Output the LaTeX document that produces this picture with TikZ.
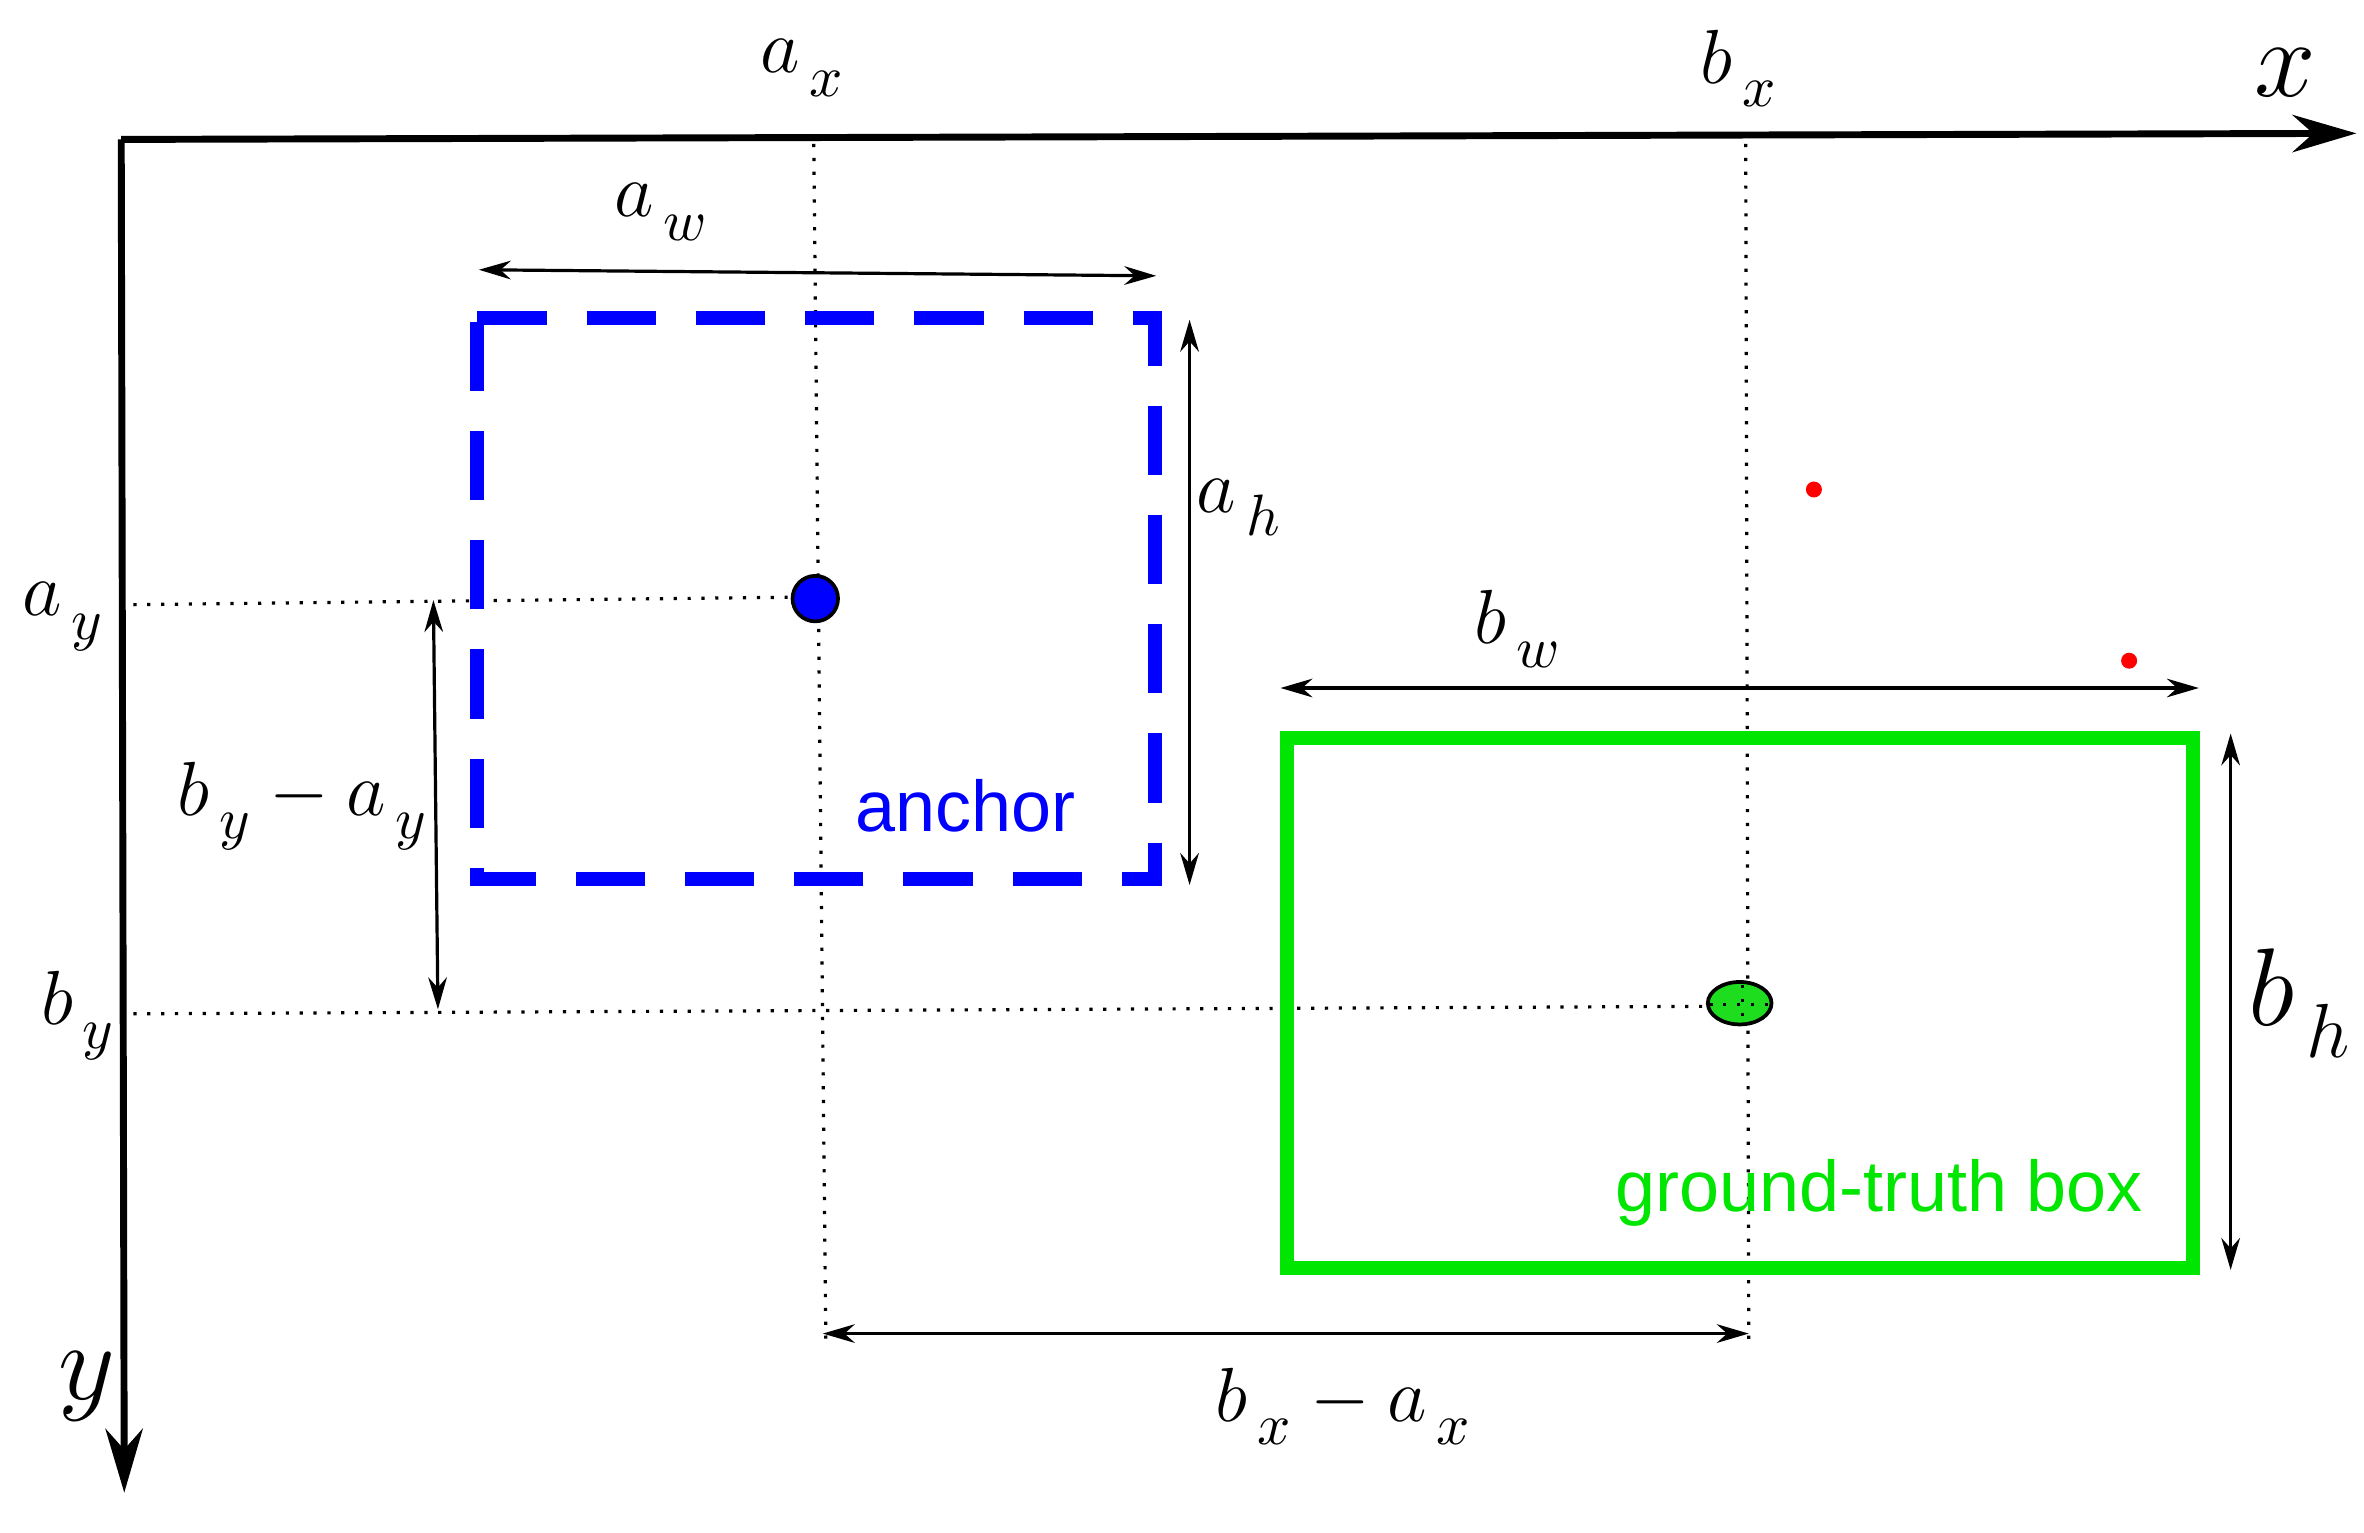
\documentclass[tikz,border=0pt]{standalone}
\usepackage{fontspec}
\newfontfamily\sansf{Liberation Sans}
\usetikzlibrary{arrows.meta,shapes.geometric}
\definecolor{gtgreen}{RGB}{0,230,0}
\definecolor{dotgreen}{RGB}{30,220,30}
\newcommand{\sbx}[2]{#1_{\,\raisebox{-0.35ex}{$\scriptstyle #2$}}}
\begin{document}
\begin{tikzpicture}[x=0.01cm,y=-0.01cm,
  lab/.style={font=\fontsize{15}{18}\selectfont},
  dim/.style={{Stealth[length=6pt,width=3.5pt]}-{Stealth[length=6pt,width=3.5pt]}, line width=0.6pt},
  dot/.style={dotted, line width=0.6pt},
  axis/.style={line width=1.3pt,-{Stealth[length=12pt,width=7pt]}}]
\useasboundingbox (0,0) rectangle (1560,1011);
\coordinate (o) at (80,92);
\coordinate (xe) at (1555,88);
\coordinate (ye) at (82,985);
\draw[axis] (o) -- (xe);
\draw[axis] (o) -- (ye);
\node[font=\fontsize{21}{24}\selectfont] (xl) at (1508,48) {$x$};
\node[font=\fontsize{21}{24}\selectfont] (yl) at (57,915) {$y$};
% dotted guides
\coordinate (ax1) at (537,95); \coordinate (ax2) at (545,888);
\coordinate (bx1) at (1152,95); \coordinate (bx2) at (1154,888);
\draw[dot] (ax1) -- (ax2);
\draw[dot] (bx1) -- (bx2);
\coordinate (ay1) at (88,399); \coordinate (ay2) at (530,394);
\coordinate (by1) at (88,669); \coordinate (by2) at (1140,664);
\draw[dot] (ay1) -- (ay2);
\draw[dot] (by1) -- (by2);
% boxes
\draw[blue, line width=2.6pt, dash pattern=on 13pt off 7.5pt] (315,210) -- (762,210) -- (762,580) -- (315,580) -- cycle;
\draw[gtgreen, line width=2.6pt] (849,487) rectangle (1447,837);
\node[draw=black, fill=blue, circle, minimum size=0.3cm, inner sep=0pt, line width=0.7pt] (ac) at (538,395) {};
\node[draw=black, fill=dotgreen, ellipse, minimum width=0.42cm, minimum height=0.28cm, inner sep=0pt, line width=0.7pt] (bc) at (1148,662) {};
\draw[dot] (1150,650) -- (1150,675);
\draw[dot] (1128,663) -- (1168,663);
% dimension arrows
\coordinate (aw1) at (316,178); \coordinate (aw2) at (763,182);
\draw[dim] (aw1) -- (aw2);
\coordinate (ah1) at (785,211); \coordinate (ah2) at (785,584);
\draw[dim] (ah1) -- (ah2);
\coordinate (bw1) at (845,454); \coordinate (bw2) at (1451,454);
\draw[dim] (bw1) -- (bw2);
\coordinate (bh1) at (1472,484); \coordinate (bh2) at (1472,838);
\draw[dim] (bh1) -- (bh2);
\coordinate (dy1) at (286,396); \coordinate (dy2) at (289,666);
\draw[dim] (dy1) -- (dy2);
\coordinate (dx1) at (543,880); \coordinate (dx2) at (1154,880);
\draw[dim] (dx1) -- (dx2);
% labels
\node[lab] (axl) at (530,45) {$\sbx{a}{x}$};
\node[lab] (bxl) at (1148,45) {$\sbx{b}{x}$};
\node[lab] (awl) at (437,140) {$\sbx{a}{w}$};
\node[lab] (ahl) at (818,335) {$\sbx{a}{h}$};
\node[lab] (bwl) at (1002,415) {$\sbx{b}{w}$};
\node[font=\fontsize{20}{24}\selectfont] (bhl) at (1518,662) {$\sbx{b}{h}$};
\node[lab] (ayl) at (42,407) {$\sbx{a}{y}$};
\node[lab] (byl) at (52,670) {$\sbx{b}{y}$};
\node[lab] (dyl) at (200,532) {$\sbx{b}{y}-\sbx{a}{y}$};
\node[lab] (dxl) at (887,928) {$\sbx{b}{x}-\sbx{a}{x}$};
\node[blue, font=\sansf\fontsize{13.5}{16}\selectfont] (anc) at (637,532) {anchor};
\node[text=gtgreen, font=\sansf\fontsize{13.5}{16}\selectfont] (gt) at (1240,787) {ground-truth box};
\fill[red] (1197,323) circle (1.5pt);
\fill[red] (1405,436) circle (1.5pt);
\end{tikzpicture}
\end{document}
